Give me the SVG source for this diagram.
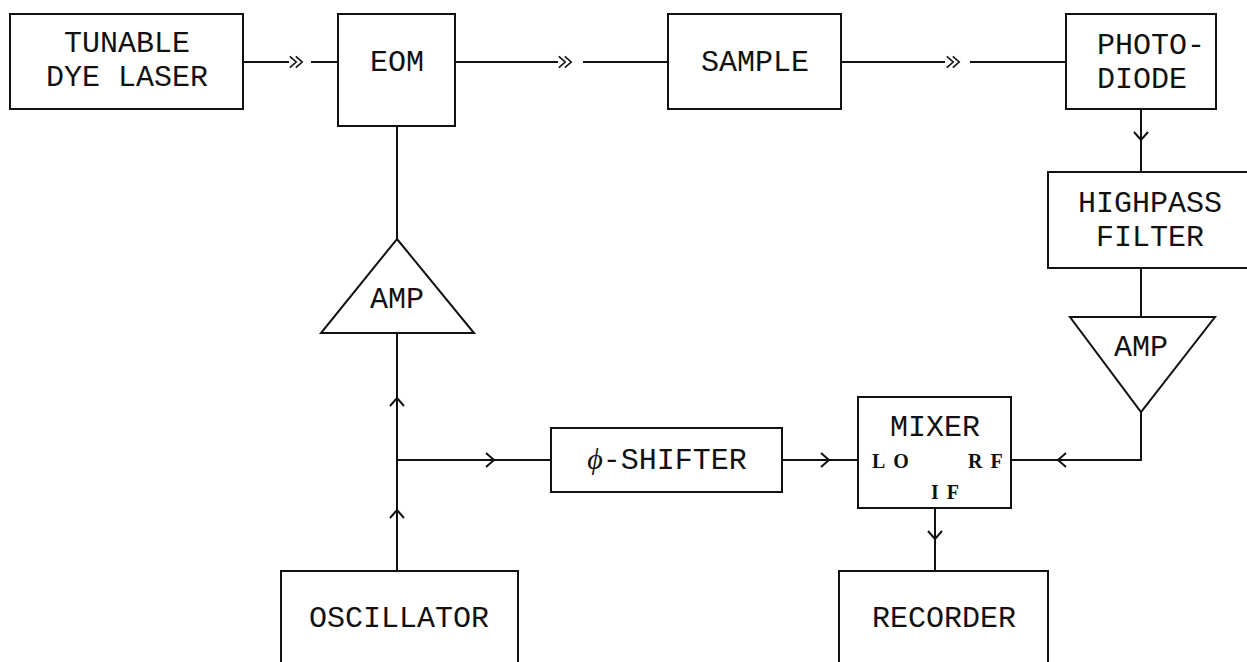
<svg xmlns="http://www.w3.org/2000/svg" xmlns:xlink="http://www.w3.org/1999/xlink" width="1247" height="662" viewBox="0 0 1247 662">
<style>
.box{fill:#fff;stroke:#111;stroke-width:2}
.ln{fill:none;stroke:#111;stroke-width:2}
.t{font-family:"Courier New","Liberation Mono",monospace;font-size:30px;fill:#111;text-anchor:middle}
.s{font-family:"Liberation Serif",serif;font-size:20px;font-weight:bold;fill:#111;letter-spacing:8px}
</style>
<defs>
<path id="chev" d="M-4,-7 L4,0 L-4,7" fill="none" stroke="#111" stroke-width="2"/>
<g id="dchev"><use xlink:href="#chev" transform="translate(-3,0) scale(0.8)"/><use xlink:href="#chev" transform="translate(3,0) scale(0.8)"/></g>
</defs>
<rect width="1247" height="662" fill="#fff"/>
<g id="connectors">
<path class="ln" d="M243,62 H289 M311,62 H338"/>
<use xlink:href="#dchev" transform="translate(296,62)"/>
<path class="ln" d="M455,62 H558 M583,62 H668"/>
<use xlink:href="#dchev" transform="translate(565,62)"/>
<path class="ln" d="M841,62 H945 M970,62 H1066"/>
<use xlink:href="#dchev" transform="translate(953,62)"/>
<path class="ln" d="M1141,109 V172"/>
<use xlink:href="#chev" transform="translate(1141,136) rotate(90)"/>
<path class="ln" d="M1141,268 V317"/>
<path class="ln" d="M1141,412 V460 H1011"/>
<use xlink:href="#chev" transform="translate(1062,460) rotate(180)"/>
<path class="ln" d="M935,508 V571"/>
<use xlink:href="#chev" transform="translate(935,535) rotate(90)"/>
<path class="ln" d="M782,460 H858"/>
<use xlink:href="#chev" transform="translate(825,460)"/>
<path class="ln" d="M397,460 H551"/>
<use xlink:href="#chev" transform="translate(490,460)"/>
<path class="ln" d="M397,126 V239"/>
<path class="ln" d="M397,333 V571"/>
<use xlink:href="#chev" transform="translate(397,402) rotate(-90)"/>
<use xlink:href="#chev" transform="translate(397,514) rotate(-90)"/>
</g>
<g id="laser">
<rect class="box" x="10" y="14" width="233" height="95"/>
<text class="t" x="127" y="52">TUNABLE</text>
<text class="t" x="127" y="86">DYE LASER</text>
</g>
<g id="eom">
<rect class="box" x="338" y="14" width="117" height="112"/>
<text class="t" x="397" y="71">EOM</text>
</g>
<g id="sample">
<rect class="box" x="668" y="14" width="173" height="95"/>
<text class="t" x="755" y="71">SAMPLE</text>
</g>
<g id="photodiode">
<rect class="box" x="1066" y="14" width="150" height="95"/>
<text class="t" x="1097" y="54" style="text-anchor:start">PHOTO-</text>
<text class="t" x="1097" y="88" style="text-anchor:start">DIODE</text>
</g>
<g id="highpass">
<rect class="box" x="1048" y="172" width="205" height="96"/>
<text class="t" x="1150" y="212">HIGHPASS</text>
<text class="t" x="1150" y="246">FILTER</text>
</g>
<g id="amp2">
<path class="box" d="M1070,317 H1215 L1141,412 Z"/>
<text class="t" x="1141" y="356">AMP</text>
</g>
<g id="mixer">
<rect class="box" x="858" y="397" width="153" height="111"/>
<text class="t" x="935" y="436">MIXER</text>
<text class="s" x="872" y="468">LO</text>
<text class="s" x="968" y="468">RF</text>
<text class="s" x="931" y="499">IF</text>
</g>
<g id="recorder">
<rect class="box" x="839" y="571" width="209" height="110"/>
<text class="t" x="944" y="627">RECORDER</text>
</g>
<g id="shifter">
<rect class="box" x="551" y="428" width="231" height="64"/>
<text class="t" x="667" y="469"><tspan font-family="Liberation Serif" font-style="italic">ϕ</tspan>-SHIFTER</text>
</g>
<g id="amp1">
<path class="box" d="M397,239 L474,333 H321 Z"/>
<text class="t" x="397" y="308">AMP</text>
</g>
<g id="oscillator">
<rect class="box" x="281" y="571" width="237" height="110"/>
<text class="t" x="399" y="627">OSCILLATOR</text>
</g>
</svg>
